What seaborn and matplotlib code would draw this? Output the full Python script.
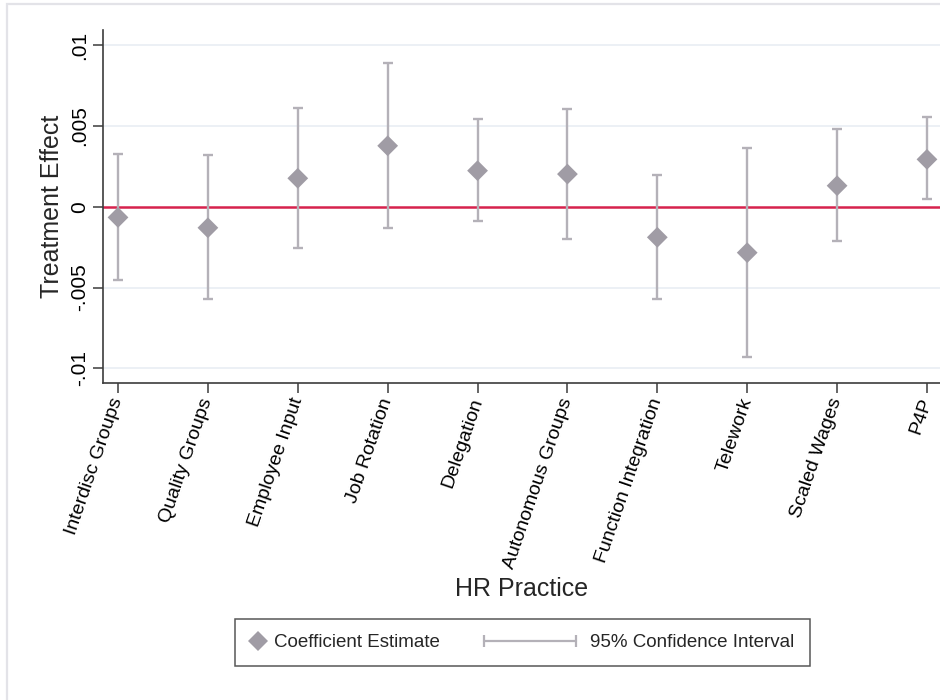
import matplotlib
matplotlib.use("Agg")
import matplotlib.pyplot as plt
from matplotlib.lines import Line2D
from matplotlib.patches import Rectangle
from matplotlib.legend_handler import HandlerBase
import seaborn as sns
import numpy as np
import pandas as pd

# HR practices and their estimated treatment effects with 95% CI bounds
practices = ["Interdisc Groups", "Quality Groups", "Employee Input", "Job Rotation",
             "Delegation", "Autonomous Groups", "Function Integration", "Telework",
             "Scaled Wages", "P4P"]
estimates = [-0.00066, -0.0013, 0.00176, 0.00377, 0.00223, 0.00202, -0.00189, -0.00284, 0.0013, 0.00293]
ci_low = [-0.00453, -0.00573, -0.00257, -0.00134, -0.00088, -0.0020, -0.00573, -0.00931, -0.00212, 0.00046]
ci_high = [0.00324, 0.0032, 0.00612, 0.0089, 0.0054, 0.00602, 0.00196, 0.00363, 0.00479, 0.00553]
y_ticks = [-0.01, -0.005, 0, 0.005, 0.01]
y_tick_labels = ["-.01", "-.005", "0", ".005", ".01"]

df = pd.DataFrame({"practice": practices, "estimate": estimates,
                   "lo": ci_low, "hi": ci_high})

sns.set_theme(style="white")
plt.rcParams["font.family"] = ["Liberation Sans", "DejaVu Sans"]

MARKER_C = "#a09ca5"
CI_C = "#b4b1b8"
ZERO_C = "#d6224d"
GRID_C = "#ebeff5"
AXIS_C = "#3c3c3c"

W, H = 940, 700
fig = plt.figure(figsize=(W / 100, H / 100), dpi=100)
fig.patch.set_facecolor("white")

# faint outer frame of the graph region
fig.patches.append(Rectangle((7.5 / W, -0.05), 1.2, 1 - 3.5 / H + 0.05,
                             transform=fig.transFigure, fill=False,
                             edgecolor="#e3e3e8", lw=1.6, zorder=0))

left, right, top, bottom = 103, 940, 30, 383
ax = fig.add_axes([left / W, 1 - bottom / H, (right - left) / W, (bottom - top) / H])

pos = np.arange(len(practices))

for yv in [-0.01, -0.005, 0.005, 0.01]:
    ax.axhline(yv, color=GRID_C, lw=1.3, zorder=0)
ax.axhline(0, color=ZERO_C, lw=1.8, zorder=1)

err = np.vstack([df["estimate"] - df["lo"], df["hi"] - df["estimate"]])
ax.errorbar(pos, df["estimate"], yerr=err, fmt="none", ecolor=CI_C,
            elinewidth=1.7, capsize=3.8, capthick=1.7, zorder=2)

sns.scatterplot(data=df, x="practice", y="estimate", marker="D", s=112,
                color=MARKER_C, edgecolor="none", linewidth=0, ax=ax, zorder=3)

ax.set_xlim(-0.167, 9.145)
ax.set_ylim(-0.0109, 0.01093)
ax.set_xticks(pos)
ax.set_xticklabels(practices, rotation=71, ha="right", va="center",
                   rotation_mode="anchor", fontsize=14)
ax.set_yticks(y_ticks)
ax.set_yticklabels(y_tick_labels, rotation=90, va="center", fontsize=15)

for s in ["top", "right"]:
    ax.spines[s].set_visible(False)
for s in ["left", "bottom"]:
    ax.spines[s].set_color(AXIS_C)
    ax.spines[s].set_linewidth(1.2)
ax.tick_params(axis="both", direction="out", length=7, width=1.1,
               color=AXIS_C, labelcolor="black", left=True, bottom=True)
ax.tick_params(axis="x", pad=4)
ax.tick_params(axis="y", pad=3)

ax.set_ylabel("Treatment Effect", fontsize=18)
ax.set_xlabel("HR Practice", fontsize=18)
ax.yaxis.set_label_coords((64 - left) / (right - left), 0.5)
ax.xaxis.set_label_coords(0.5, (bottom - 577) / (bottom - top))


class CIHandler(HandlerBase):
    """Legend key: horizontal interval line with end caps, extended to the left."""
    def create_artists(self, legend, orig_handle, xdescent, ydescent,
                       width, height, fontsize, trans):
        y = height / 2 - ydescent
        x1 = width - xdescent - 4.5
        x0 = x1 - 66
        line = Line2D([x0, x1], [y, y], color=CI_C, lw=1.6, marker="|",
                      markersize=9, markeredgewidth=1.6)
        line.set_transform(trans)
        return [line]


est_handle = Line2D([], [], marker="D", ls="none", color=MARKER_C,
                    markersize=10, markeredgewidth=0)
ci_handle = Line2D([], [], color=CI_C)

leg = fig.legend([est_handle, ci_handle],
                 ["Coefficient Estimate", "95% Confidence Interval"],
                 handler_map={ci_handle: CIHandler()},
                 loc="center", bbox_to_anchor=(522.5 / W, 1 - 642.5 / H),
                 ncol=2, fontsize=13.5, frameon=True, fancybox=False,
                 edgecolor="#2e2e2e", borderpad=0.8, handlelength=0.8,
                 handletextpad=0.45, columnspacing=6.8)
leg.get_frame().set_linewidth(1.1)

fig.savefig("out.png", dpi=100, facecolor="white")
